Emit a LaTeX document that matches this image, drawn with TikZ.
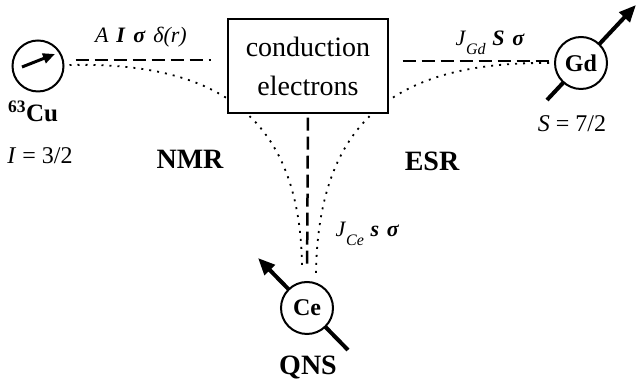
\documentclass[tikz,border=0pt]{standalone}
\usepackage{fontspec}
\setmainfont{Liberation Serif}
\usetikzlibrary{arrows.meta}
\usetikzlibrary{positioning}
\newcommand{\lowsub}[1]{\raisebox{-0.4em}{\fontsize{16}{18}\selectfont\textit{#1}}}
\tikzset{atom/.style={
    circle,draw=black,line width=2pt,fill=white,
    minimum size=52pt,inner sep=0pt,
    font=\fontsize{24}{28}\selectfont\bfseries
  },
  bath/.style={
    draw=black,line width=1.3pt,fill=white,
    minimum width=160pt,minimum height=94pt,align=center,
    font=\fontsize{28}{39}\selectfont
  },
  coupling/.style={
    line width=2.5pt,dash pattern=on 13pt off 6pt
  },
  path/.style={
    line width=1.8pt,dash pattern=on 2pt off 6pt
  },
  spin/.style={
    line width=4pt,-{Triangle[length=17pt,width=14pt]}
  },
  lbl/.style={
    font=\fontsize{22}{24}\selectfont
  },
  method/.style={
    font=\fontsize{28}{32}\selectfont\bfseries
  },
  val/.style={
    font=\fontsize{24}{28}\selectfont
  }
}

\begin{document}
\begin{tikzpicture}[x=1pt,y=1pt]
      \useasboundingbox (0,0) rectangle (637,390);
      % spins behind the circles
      \coordinate (gdtail) at (547,290);
      \coordinate (gdtip) at (636,385);
      \coordinate (cetail) at (348,40);
      \coordinate (cetip) at (258,132);
      \draw[spin] (gdtail) -- (gdtip);
      \draw[spin] (cetail) -- (cetip);
      \node[atom,minimum size=51pt] (cu) at (38,324) {};
      \node[atom] (gd) at (581,327) {Gd};
      \node[atom] (ce) at (307,82) {Ce};
      \coordinate (cutail) at (22,323);
      \coordinate (cutip) at (55,336);
      \draw[line width=3pt,-{Triangle[length=12pt,width=10pt]}] (cutail) -- (cutip);
      % dotted paths, partly hidden by the box
      \draw[path] ([xshift=5pt,yshift=1pt]cu.east) .. controls (210,328) and (300,280) .. ([xshift=-5pt,yshift=15pt]ce.north);
      \draw[path] ([xshift=-5pt]gd.west) .. controls (408,328) and (318,280) .. ([xshift=9pt,yshift=7pt]ce.north);
      \node[bath] (ce bath) at (308,324) {conduction\\electrons};
      % couplings
      \draw[coupling,shorten <=11pt,shorten >=16pt] ([yshift=6pt]cu.east) -- ([yshift=6pt]ce bath.west);
      \draw[coupling,shorten <=14pt,shorten >=5pt] ([yshift=5pt]ce bath.east) -- ([yshift=2pt]gd.west);
      \draw[coupling,shorten <=4pt,shorten >=12pt] (ce bath.south) -- (ce.north);
      \node[lbl] (cu coupling) at (141,353) {\textit{A}\hspace{0.35em}\textbf{\textit{I}}\hspace{0.35em}\textbf{\textit{σ}}\hspace{0.35em}\textit{δ(r)}};
      \node[lbl,anchor=base west] (gd coupling) at (452,344) {\textit{J}\lowsub{Gd}\hspace{0.3em}\textbf{\textit{S}}\hspace{0.35em}\textbf{\textit{σ}}};
      \node[lbl,anchor=base west] (ce coupling) at (332,153) {\textit{J}\lowsub{Ce}\hspace{0.3em}\textbf{\textit{s}}\hspace{0.35em}\textbf{\textit{σ}}};
      % labels
      \node[val,font=\fontsize{25}{28}\selectfont\bfseries] (cu name) at (33,279) {\textsuperscript{63}Cu};
      \node[val] (cu spin) at (40,234) {\textit{I} = 3/2};
      \node[val] (gd spin) at (572,266) {\textit{S} = 7/2};
      \node[method] (nmr) at (190,231) {NMR};
      \node[method] (esr) at (432,229) {ESR};
      \node[method] (qns) at (308,22) {QNS};
      \end{tikzpicture}
\end{document}
